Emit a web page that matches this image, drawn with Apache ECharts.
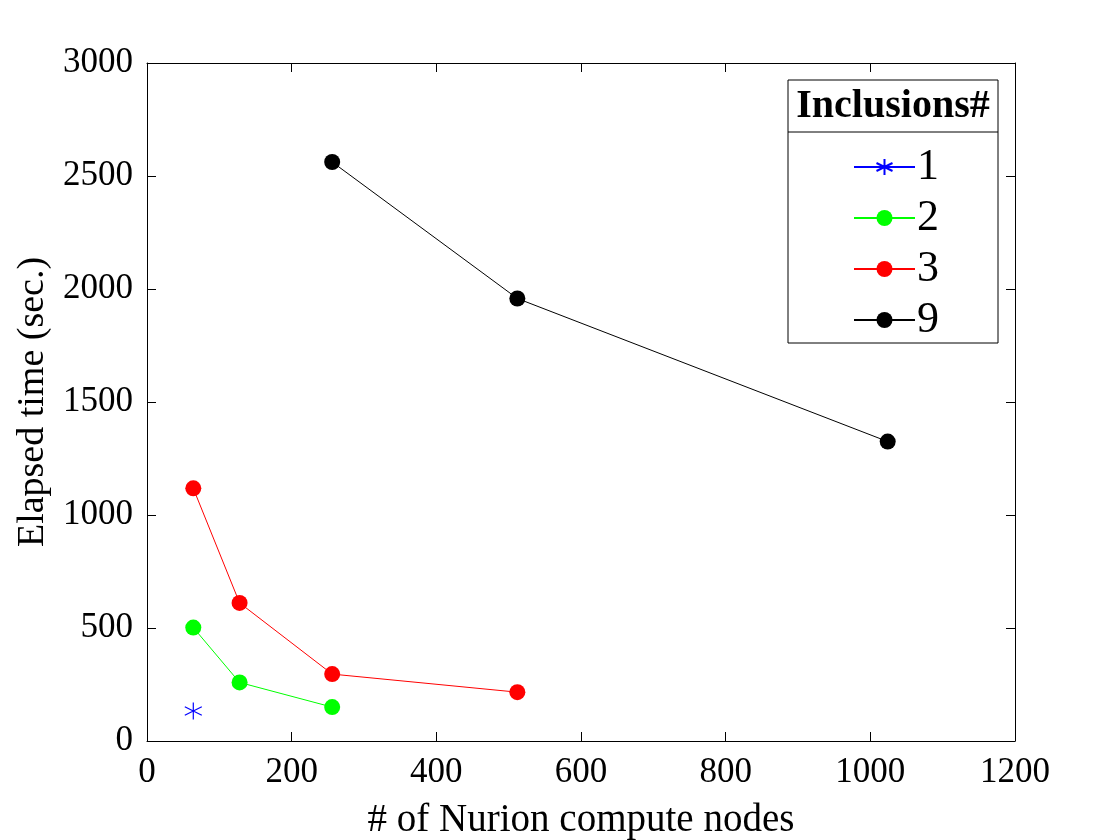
<!DOCTYPE html>
<html><head><meta charset="utf-8">
<script src="https://cdn.jsdelivr.net/npm/echarts@6/dist/echarts.min.js"></script>
<style>html,body{margin:0;padding:0;background:#fff}#c{width:1120px;height:840px}</style>
</head><body><div id="c"></div>
<script>
const seriesNames = ['1', '2', '3', '9'];
const nodes1 = [64];
const time1 = [133];
const nodes2 = [64, 128, 256];
const time2 = [502, 259, 150];
const nodes3 = [64, 128, 256, 512];
const time3 = [1118, 611, 296, 216];
const nodes9 = [256, 512, 1024];
const time9 = [2562, 1958, 1325];
const xTicks = [0, 200, 400, 600, 800, 1000, 1200];
const yTicks = [0, 500, 1000, 1500, 2000, 2500, 3000];

const FONT = '"Liberation Serif", "Times New Roman", serif';
const star = 'path://M0,-10L0,10M-8.66,-5L8.66,5M-8.66,5L8.66,-5';
const zip = (a, b) => a.map((v, i) => [v, b[i]]);

const chart = echarts.init(document.getElementById('c'));
function axisBase() {
  return {
    type: 'value',
    axisLine: { show: true, onZero: false, lineStyle: { color: '#000', width: 1 } },
    axisTick: { show: true, inside: true, length: 9, lineStyle: { color: '#000' } },
    splitLine: { show: false }
  };
}
chart.setOption({
  animation: false,
  textStyle: { fontFamily: FONT },
  grid: { left: 147, top: 63, right: 105, bottom: 99, containLabel: false, outerBoundsMode: 'none' },
  xAxis: [
    Object.assign(axisBase(), {
      min: xTicks[0], max: xTicks[xTicks.length - 1], interval: 200, position: 'bottom',
      axisLabel: { color: '#000', fontSize: 35, fontFamily: FONT, margin: 14, formatter: v => String(v) },
      name: '# of Nurion compute nodes', nameLocation: 'middle', nameGap: 60,
      nameTextStyle: { color: '#000', fontSize: 39, fontFamily: FONT }
    }),
    Object.assign(axisBase(), {
      min: xTicks[0], max: xTicks[xTicks.length - 1], interval: 200, position: 'top',
      axisLabel: { show: false }
    })
  ],
  yAxis: [
    Object.assign(axisBase(), {
      min: yTicks[0], max: yTicks[yTicks.length - 1], interval: 500, position: 'left',
      axisLabel: { color: '#000', fontSize: 35, fontFamily: FONT, margin: 14, formatter: v => String(v) },
      name: 'Elapsed time (sec.)', nameLocation: 'middle', nameGap: 92,
      nameTextStyle: { color: '#000', fontSize: 38, fontFamily: FONT }
    }),
    Object.assign(axisBase(), {
      min: yTicks[0], max: yTicks[yTicks.length - 1], interval: 500, position: 'right',
      axisLabel: { show: false }
    })
  ],
  legend: {
    orient: 'vertical', left: 848, top: 139, itemGap: 5, itemWidth: 61, itemHeight: 20,
    textStyle: { color: '#000', fontSize: 44, lineHeight: 46, fontFamily: FONT, padding: [0, 0, 0, -3] },
    data: seriesNames.map(n => ({ name: n }))
  },
  graphic: [
    { type: 'rect', shape: { x: 788, y: 80, width: 210, height: 263 },
      style: { fill: '#fff', stroke: '#000', lineWidth: 1 }, z: 0 },
    { type: 'line', shape: { x1: 788, y1: 132, x2: 998, y2: 132 },
      style: { stroke: '#000', lineWidth: 1 }, z: 1 },
    { type: 'text', x: 893, y: 107,
      style: { text: 'Inclusions#', font: 'bold 40px ' + FONT, fill: '#000', textAlign: 'center', textVerticalAlign: 'middle' }, z: 1 }
  ],
  series: [
    { name: seriesNames[0], type: 'line', data: zip(nodes1, time1), symbol: star, symbolSize: 17,
      lineStyle: { color: '#0000ff', width: 1 },
      itemStyle: { color: '#0000ff', borderColor: '#0000ff', borderWidth: 1.2 } },
    { name: seriesNames[1], type: 'line', data: zip(nodes2, time2), symbol: 'circle', symbolSize: 16,
      lineStyle: { color: '#00ff00', width: 1 }, itemStyle: { color: '#00ff00' } },
    { name: seriesNames[2], type: 'line', data: zip(nodes3, time3), symbol: 'circle', symbolSize: 16,
      lineStyle: { color: '#ff0000', width: 1 }, itemStyle: { color: '#ff0000' } },
    { name: seriesNames[3], type: 'line', data: zip(nodes9, time9), symbol: 'circle', symbolSize: 16,
      lineStyle: { color: '#000000', width: 1 }, itemStyle: { color: '#000000' } }
  ]
});
</script></body></html>
